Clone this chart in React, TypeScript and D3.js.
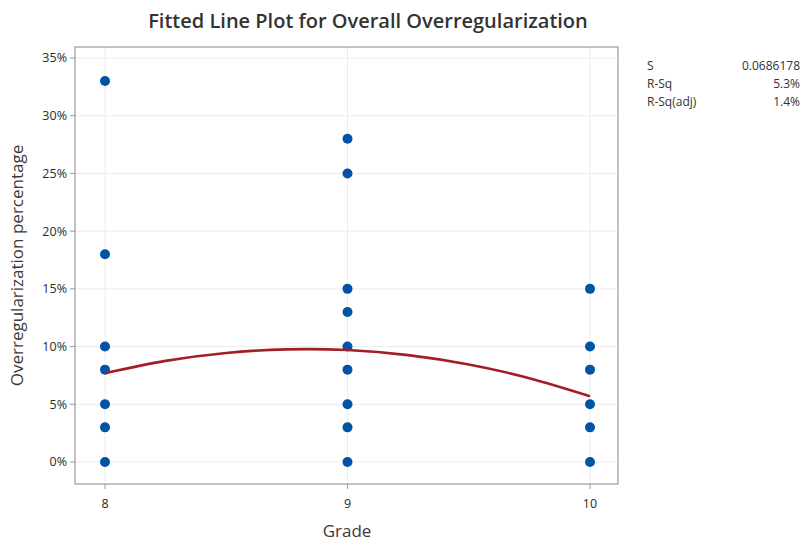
import * as d3 from "d3";

// observations per grade (percent)
const grade8 = [33, 18, 10, 8, 5, 3, 0];
const grade9 = [28, 25, 15, 13, 10, 8, 5, 3, 0];
const grade10 = [15, 10, 8, 5, 3, 0];
const grades = [8, 9, 10];

// fitted quadratic line
const fitX = [8, 8.25, 8.5, 8.75, 9, 9.25, 9.5, 9.75, 10];
const fitY = [7.7, 8.76, 9.45, 9.76, 9.7, 9.26, 8.45, 7.26, 5.7];

const yTicks = [0, 5, 10, 15, 20, 25, 30, 35];

const statLabels = ["S", "R-Sq", "R-Sq(adj)"];
const statValues = ["0.0686178", "5.3%", "1.4%"];

const W = 804;
const H = 543;
const left = 75, right = 618, top = 47, bottom = 484;
const font = "'Open Sans', 'Noto Sans', sans-serif";

export default function App() {
  const x = d3.scaleLinear().domain([8, 10]).range([105, 590]);
  const y = d3.scaleLinear().domain([0, 35]).range([462, 58]);

  const pts: [number, number][] = [];
  [grade8, grade9, grade10].forEach((arr, i) => arr.forEach((v) => pts.push([grades[i], v])));

  const line = d3
    .line<number>()
    .x((d) => x(d))
    .y((_, i) => y(fitY[i]))
    .curve(d3.curveNatural);

  return (
    <svg width={W} height={H} style={{ position: "absolute", left: 0, top: 0, background: "#fff" }} fontFamily={font}>
      <rect x={0} y={0} width={W} height={H} fill="#fff" />
      <text x={368} y={28} textAnchor="middle" fontSize={20} fontWeight={600} fill="#333">
        Fitted Line Plot for Overall Overregularization
      </text>

      {/* gridlines */}
      {yTicks.map((t) => (
        <line key={"gy" + t} x1={left} x2={right} y1={y(t)} y2={y(t)} stroke="#ececec" />
      ))}
      {grades.map((g) => (
        <line key={"gx" + g} x1={x(g)} x2={x(g)} y1={top} y2={bottom} stroke="#ececec" />
      ))}

      <rect x={left} y={top} width={right - left} height={bottom - top} fill="none" stroke="#9a9a9a" strokeWidth={1.2} />

      {/* y axis */}
      {yTicks.map((t) => (
        <g key={"ty" + t}>
          <line x1={left - 5} x2={left} y1={y(t)} y2={y(t)} stroke="#9a9a9a" />
          <text x={left - 8} y={y(t)} dy="0.35em" textAnchor="end" fontSize={12.5} fill="#2a2a2a">
            {t}%
          </text>
        </g>
      ))}
      {/* x axis */}
      {grades.map((g) => (
        <g key={"tx" + g}>
          <line x1={x(g)} x2={x(g)} y1={bottom} y2={bottom + 5} stroke="#9a9a9a" />
          <text x={x(g)} y={504} dy="0.35em" textAnchor="middle" fontSize={12.5} fill="#2a2a2a">
            {g}
          </text>
        </g>
      ))}

      <text x={347} y={531} dy="0.35em" textAnchor="middle" fontSize={17} fill="#3a3a3a">
        Grade
      </text>
      <text
        transform={`translate(23,${(top + bottom) / 2}) rotate(-90)`}
        textAnchor="middle"
        fontSize={17}
        fill="#3a3a3a"
      >
        Overregularization percentage
      </text>

      {/* points */}
      {pts.map(([g, v], i) => (
        <circle key={i} cx={x(g)} cy={y(v)} r={5} fill="#0054a6" />
      ))}

      <path d={line(fitX) || ""} fill="none" stroke="#a31e22" strokeWidth={2.6} />

      {/* stats */}
      {statLabels.map((s, i) => (
        <g key={s}>
          <text x={647} y={66 + i * 18} dy="0.35em" fontSize={12} fill="#333">
            {s}
          </text>
          <text x={800} y={66 + i * 18} dy="0.35em" textAnchor="end" fontSize={12} fill="#333">
            {statValues[i]}
          </text>
        </g>
      ))}
    </svg>
  );
}
